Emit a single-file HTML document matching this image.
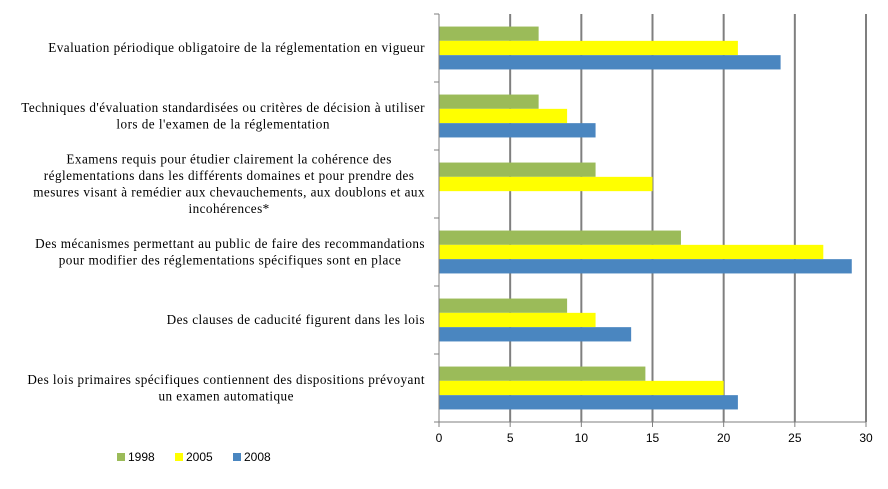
<!DOCTYPE html>
<html><head><meta charset="utf-8"><style>
body{margin:0;background:#fff;}
svg{display:block;font-family:"Liberation Serif",serif;}
</style></head><body>
<svg id="chart" width="888" height="489"></svg>
<script>
const categories=[
 ["Evaluation périodique obligatoire de la réglementation en vigueur"],
 ["Techniques d'évaluation standardisées ou critères de décision à utiliser","lors de l'examen de la réglementation"],
 ["Examens requis pour étudier clairement la cohérence des","réglementations dans les différents domaines et pour prendre des","mesures visant à remédier aux chevauchements, aux doublons et aux","incohérences*"],
 ["Des mécanismes permettant au public de faire des recommandations","pour modifier des réglementations spécifiques sont en place"],
 ["Des clauses de caducité figurent dans les lois"],
 ["Des lois primaires spécifiques contiennent des dispositions prévoyant","un examen automatique"]
];
const series1998=[7,7,11,17,9,14.5];
const series2005=[21,9,15,27,11,20];
const series2008=[24,11,0,29,13.5,21];
const seriesNames=["1998","2005","2008"];
const tickLabels=[0,5,10,15,20,25,30];
const NS="http://www.w3.org/2000/svg";
const svg=document.getElementById('chart');
const x0=439,x1=866,yTop=14,yBot=422,xMax=30;
const xs=v=>x0+v*(x1-x0)/xMax;
const gh=(yBot-yTop)/categories.length;
function mk(t,a){const e=document.createElementNS(NS,t);for(const k in a)e.setAttribute(k,a[k]);svg.appendChild(e);return e;}
tickLabels.forEach((t,i)=>{
 if(t>0){const g=mk('line',{x1:xs(t),x2:xs(t),y1:yTop,y2:yBot,stroke:'#7f7f7f','stroke-width':2});
 
 }
 const tk=mk('line',{x1:xs(t),x2:xs(t),y1:yBot,y2:yBot+5,stroke:'#7f7f7f'});
 
 
 const lb=mk('text',{x:xs(t),y:yBot+20,'text-anchor':'middle','font-size':12,fill:'#000','font-family':'Liberation Sans, sans-serif'});
 lb.textContent=t;
 
 
});
const colors=["#9bbb59","#ffff00","#4a86c0"];
const all=[series1998,series2005,series2008];
const bh=14.3;
categories.forEach((c,i)=>{
 const gt=yTop+i*gh, off=(gh-3*bh)/2;
 all.forEach((s,j)=>{
  if(s[i]<=0)return;
  const r=mk('rect',{x:x0,y:gt+off+j*bh,width:xs(s[i])-x0,height:bh,fill:colors[j]});
  
  
 });
 const tk=mk('line',{x1:x0-5,x2:x0,y1:gt,y2:gt,stroke:'#7f7f7f'});
 
 
 const lh=16.5, cy=gt+gh/2, sy=cy-(c.length-1)*lh/2+4;
 const els=c.map((ln,k)=>{
  const t=mk('text',{x:0,y:sy+k*lh,'text-anchor':'middle','font-size':13.2,'letter-spacing':0.45,fill:'#000'});
  t.textContent=ln;
  
  
  return t;
 });
 let mw=0;els.forEach(e=>{mw=Math.max(mw,e.getComputedTextLength());});
 els.forEach(e=>e.setAttribute('x',425-mw/2));
});
const ax=mk('line',{x1:x0,x2:x0,y1:yTop,y2:yBot,stroke:'#7f7f7f'});


const bx=mk('line',{x1:x0-5,x2:x1,y1:yBot,y2:yBot,stroke:'#7f7f7f'});


seriesNames.forEach((n,j)=>{
 const lx=117+j*58;
 const r=mk('rect',{x:lx,y:453,width:8,height:8,fill:colors[j]});
 
 
 const t=mk('text',{x:lx+11,y:461,'font-size':12,fill:'#000','font-family':'Liberation Sans, sans-serif'});
 t.textContent=n;
 
 
});
</script>
</body></html>
